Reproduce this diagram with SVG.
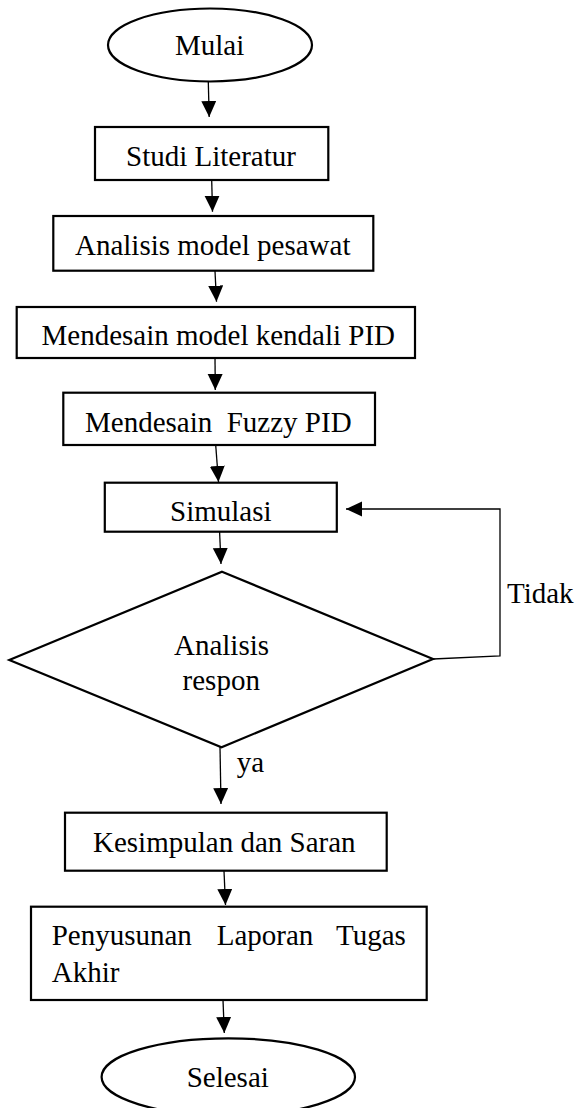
<svg xmlns="http://www.w3.org/2000/svg" width="580" height="1108" viewBox="0 0 580 1108">
<style>
.n{fill:#fff;stroke:#000;stroke-width:2.2}
.t{font-family:"Liberation Serif","Times New Roman",serif;font-size:29px;fill:#000}
.c{fill:none;stroke:#000;stroke-width:1.3}
</style>
<defs>
<marker id="ah" markerUnits="userSpaceOnUse" markerWidth="17" markerHeight="16" refX="16" refY="7.5" orient="auto">
<path d="M0,0 L16,7.5 L0,15 z" fill="#000"/>
</marker>
</defs>
<rect width="580" height="1108" fill="#fff"/>
<g id="connectors">
<line class="c" x1="208.3" y1="82" x2="209.2" y2="117" marker-end="url(#ah)"/>
<line class="c" x1="211.7" y1="180" x2="212.5" y2="211.7" marker-end="url(#ah)"/>
<line class="c" x1="215" y1="271" x2="216.5" y2="301.7" marker-end="url(#ah)"/>
<line class="c" x1="215" y1="358" x2="215.3" y2="390" marker-end="url(#ah)"/>
<line class="c" x1="215.7" y1="445" x2="218.5" y2="482" marker-end="url(#ah)"/>
<line class="c" x1="219.6" y1="532" x2="221" y2="564" marker-end="url(#ah)"/>
<line class="c" x1="220" y1="747" x2="221" y2="804" marker-end="url(#ah)"/>
<line class="c" x1="224" y1="871" x2="225.5" y2="905" marker-end="url(#ah)"/>
<line class="c" x1="223" y1="1000" x2="224.3" y2="1033" marker-end="url(#ah)"/>
<polyline class="c" points="433,659 500,656 500,509 346,509" marker-end="url(#ah)"/>
</g>
<g id="mulai">
<ellipse class="n" cx="210" cy="45" rx="102" ry="36.5"/>
<text class="t" x="175" y="55">Mulai</text>
</g>
<g id="studi">
<rect class="n" x="95" y="127" width="233.3" height="53"/>
<text class="t" x="126" y="166">Studi Literatur</text>
</g>
<g id="analisis-model">
<rect class="n" x="53.3" y="216" width="320" height="54.7"/>
<text class="t" x="75" y="255">Analisis model pesawat</text>
</g>
<g id="desain-pid">
<rect class="n" x="16.7" y="307" width="398.3" height="51"/>
<text class="t" x="41.5" y="345">Mendesain model kendali PID</text>
</g>
<g id="fuzzy">
<rect class="n" x="63.3" y="392.7" width="311.7" height="52.3"/>
<text class="t" x="85" y="431.7" xml:space="preserve">Mendesain  Fuzzy PID</text>
</g>
<g id="simulasi">
<rect class="n" x="104.8" y="482.7" width="232" height="49"/>
<text class="t" x="170" y="521">Simulasi</text>
</g>
<g id="analisis-respon">
<polygon class="n" points="222,571.7 433,659 221.5,747.3 9.3,660"/>
<text class="t" x="174" y="655">Analisis</text>
<text class="t" x="182.6" y="690">respon</text>
</g>
<g id="labels">
<text class="t" x="507" y="603">Tidak</text>
<text class="t" x="236.7" y="772">ya</text>
</g>
<g id="kesimpulan">
<rect class="n" x="65" y="812.7" width="321.7" height="58"/>
<text class="t" x="93" y="851.7">Kesimpulan dan Saran</text>
</g>
<g id="penyusunan">
<rect class="n" x="31" y="906.7" width="395.7" height="93.3"/>
<text class="t" y="945"><tspan x="51.7">Penyusunan</tspan><tspan x="216.7">Laporan</tspan><tspan x="336">Tugas</tspan></text>
<text class="t" x="51.7" y="981.7">Akhir</text>
</g>
<g id="selesai">
<ellipse class="n" cx="228.3" cy="1077" rx="126.7" ry="38.7"/>
<text class="t" x="186.7" y="1086.7">Selesai</text>
</g>
</svg>
